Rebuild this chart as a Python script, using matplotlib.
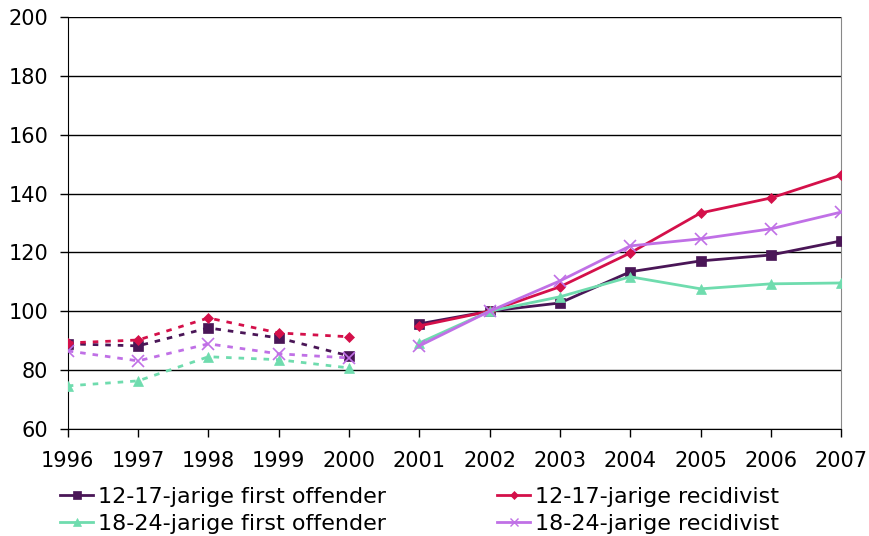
import matplotlib
matplotlib.use("Agg")
import matplotlib.pyplot as plt
from matplotlib.lines import Line2D

years_old = [1996, 1997, 1998, 1999, 2000]
years_new = [2001, 2002, 2003, 2004, 2005, 2006, 2007]

first_1217_old = [88.9, 88.2, 94.3, 90.9, 84.8]
first_1217_new = [95.7, 100, 102.8, 113.4, 117.1, 119.1, 123.9]
recid_1217_old = [89.2, 90.2, 97.7, 92.6, 91.3]
recid_1217_new = [95.0, 100, 108.3, 119.8, 133.4, 138.5, 146.3]
first_1824_old = [74.6, 76.3, 84.5, 83.5, 80.7]
first_1824_new = [89.2, 100, 104.9, 111.7, 107.6, 109.3, 109.6]
recid_1824_old = [86.5, 83.1, 88.9, 85.5, 84.1]
recid_1824_new = [88.2, 100, 110.3, 122.2, 124.6, 128.0, 133.7]

labels = ["12-17-jarige first offender", "12-17-jarige recidivist",
          "18-24-jarige first offender", "18-24-jarige recidivist"]
y_ticks = [60, 80, 100, 120, 140, 160, 180, 200]

series = [
    (first_1217_old, first_1217_new, "#4a1657", "s", 7),
    (recid_1217_old, recid_1217_new, "#d4104a", "D", 5.5),
    (first_1824_old, first_1824_new, "#6fdcae", "^", 7.5),
    (recid_1824_old, recid_1824_new, "#c070e6", "x", 8),
]

fig = plt.figure(figsize=(8.69, 5.36), dpi=100)
ax = fig.add_axes([0.078, 0.2, 0.89, 0.768])

handles = []
for (old, new, col, mk, ms) in series:
    kw = dict(color=col, lw=2, marker=mk, markersize=ms,
              markeredgewidth=1.2 if mk == "x" else 0.5,
              markeredgecolor=col, zorder=3)
    ax.plot(years_old, old, linestyle=(0, (2, 2.5)), **kw)
    ax.plot(years_new, new, linestyle="-", **kw)
    handles.append(Line2D([], [], color=col, lw=2, marker=mk, markersize=ms * 0.75,
                          markeredgecolor=col, markeredgewidth=1 if mk == "x" else 0.5))

ax.set_xlim(1996, 2007)
ax.set_ylim(60, 200)
ax.set_yticks(y_ticks)
ax.set_xticks(years_old + years_new)
ax.grid(axis="y", color="black", lw=1)
ax.set_axisbelow(True)
ax.spines["top"].set_visible(False)
ax.spines["right"].set_color("#888888")
ax.spines["left"].set_color("black")
ax.spines["bottom"].set_color("black")
ax.tick_params(direction="out", length=6, width=1, labelsize=15)
ax.tick_params(axis="x", pad=10)
ax.tick_params(axis="y", pad=8)
for lab in ax.get_xticklabels() + ax.get_yticklabels():
    lab.set_family("DejaVu Sans")

order = [0, 2, 1, 3]
leg = fig.legend([handles[i] for i in order], [labels[i] for i in order],
                 loc="upper left", bbox_to_anchor=(0.069, 0.0915), ncol=2,
                 frameon=False, handlelength=1.5, handletextpad=0.2,
                 columnspacing=5.0, labelspacing=0.3, borderpad=0, borderaxespad=0,
                 prop={"family": "DejaVu Sans", "size": 16})

fig.savefig("out.png", dpi=100)
